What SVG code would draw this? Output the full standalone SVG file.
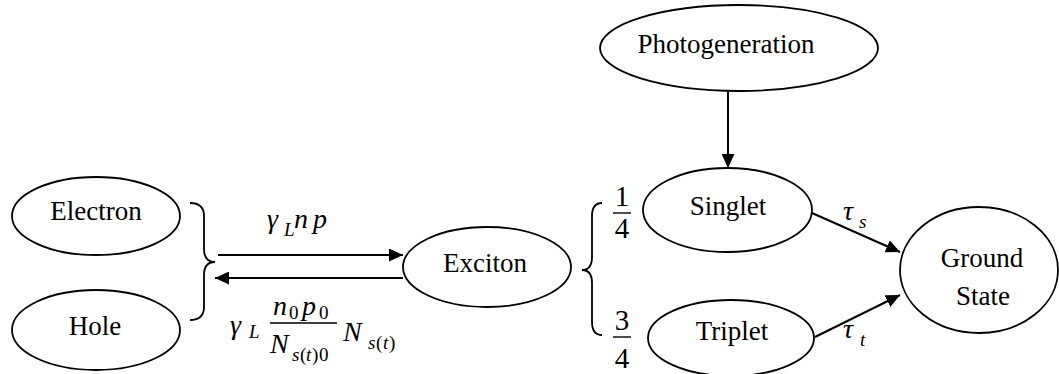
<svg xmlns="http://www.w3.org/2000/svg" width="1059" height="374" viewBox="0 0 1059 374" font-family="'Liberation Serif', 'Times New Roman', 'DejaVu Serif', serif">
<style>
text{font-family:'Liberation Serif','Times New Roman','DejaVu Serif',serif}
.node ellipse{fill:#fff;stroke:#000;stroke-width:1.8}
.lbl{font-size:27px;fill:#000;text-anchor:middle}
.math{font-size:28px;font-style:italic;fill:#000}
.sub{font-size:19px}
.rm{font-style:normal}
.num{font-size:29px;fill:#000;text-anchor:middle}
.conn line{stroke:#000;stroke-width:2}
.brace{fill:none;stroke:#000;stroke-width:1.8}
.frac{stroke:#000;stroke-width:1.4}
</style>
<defs>
<marker id="ah" markerUnits="userSpaceOnUse" markerWidth="15" markerHeight="13" refX="14" refY="6.5" orient="auto">
<path d="M0,0 L14,6.5 L0,13 z" fill="#000"/>
</marker>
</defs>
<rect width="1059" height="374" fill="#fff"/>

<g id="photogeneration" class="node"><ellipse cx="739" cy="48" rx="139" ry="43"/><text class="lbl" x="726" y="53">Photogeneration</text></g>
<g id="electron" class="node"><ellipse cx="96" cy="216" rx="84" ry="39"/><text class="lbl" x="96" y="220">Electron</text></g>
<g id="hole" class="node"><ellipse cx="96" cy="330" rx="84" ry="40"/><text class="lbl" x="95" y="335">Hole</text></g>
<g id="exciton" class="node"><ellipse cx="487" cy="267" rx="84" ry="40"/><text class="lbl" x="485" y="272">Exciton</text></g>
<g id="singlet" class="node"><ellipse cx="727.5" cy="210" rx="84.5" ry="42"/><text class="lbl" x="728" y="215">Singlet</text></g>
<g id="triplet" class="node"><ellipse cx="731" cy="338" rx="83" ry="38"/><text class="lbl" x="732" y="340">Triplet</text></g>
<g id="ground" class="node"><ellipse cx="979" cy="270" rx="79" ry="63"/><text class="lbl" x="982" y="267">Ground</text><text class="lbl" x="983" y="305">State</text></g>

<g id="connectors" class="conn">
<line x1="218" y1="255" x2="403" y2="255" marker-end="url(#ah)"/>
<line x1="403" y1="278" x2="215" y2="278" marker-end="url(#ah)"/>
<line x1="728" y1="92" x2="728" y2="168" marker-end="url(#ah)"/>
<line x1="812" y1="213" x2="900" y2="252" marker-end="url(#ah)"/>
<line x1="815" y1="337" x2="900" y2="295" marker-end="url(#ah)"/>
</g>

<g id="braces">
<path class="brace" d="M190,203 Q204,203 204,216 L204,249 Q204,262 215,262 Q204,262 204,275 L204,307 Q204,320 190,320"/>
<path class="brace" d="M602,203 Q592,203 592,216 L592,257 Q592,270 582,270 Q592,270 592,283 L592,322 Q592,335 602,335"/>
</g>

<g id="labels">
<text class="math" y="228"><tspan x="267">γ</tspan><tspan class="sub" x="284" y="236">L</tspan><tspan x="294" y="228">n</tspan><tspan x="313">p</tspan></text>

<text class="math" y="334"><tspan x="230">γ</tspan><tspan class="sub" x="249" y="338">L</tspan></text>
<text class="math" y="315"><tspan x="273">n</tspan><tspan class="sub rm" x="289" y="319">0</tspan><tspan x="302" y="315">p</tspan><tspan class="sub rm" x="319" y="319">0</tspan></text>
<line class="frac" x1="270" y1="323" x2="337" y2="323"/>
<text class="math" y="353"><tspan x="270">N</tspan><tspan class="sub" x="292" y="361">s</tspan><tspan class="sub rm" x="300">(</tspan><tspan class="sub" x="306">t</tspan><tspan class="sub rm" x="312">)</tspan><tspan class="sub rm" x="319">0</tspan></text>
<text class="math" y="341"><tspan x="343">N</tspan><tspan class="sub" x="368" y="349">s</tspan><tspan class="sub rm" x="376">(</tspan><tspan class="sub" x="383">t</tspan><tspan class="sub rm" x="389">)</tspan></text>

<text class="math" y="220"><tspan x="843">τ</tspan><tspan class="sub" x="859" y="228">s</tspan></text>
<text class="math" y="338"><tspan x="843">τ</tspan><tspan class="sub" x="860" y="346">t</tspan></text>

<text class="num" x="622" y="206">1</text>
<line class="frac" x1="613" y1="213" x2="631" y2="213"/>
<text class="num" x="622" y="238">4</text>
<text class="num" x="622" y="330">3</text>
<line class="frac" x1="613" y1="337" x2="631" y2="337"/>
<text class="num" x="622" y="368">4</text>
</g>
</svg>
